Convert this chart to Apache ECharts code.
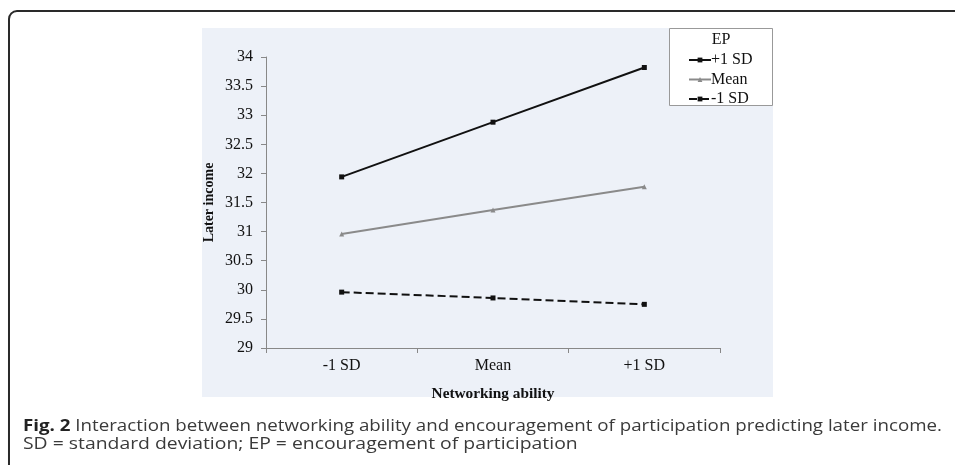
<!DOCTYPE html>
<html><head><meta charset="utf-8">
<script src="https://cdn.jsdelivr.net/npm/echarts@6/dist/echarts.min.js"></script>
<style>html,body{margin:0;padding:0;background:#fff}#c{width:955px;height:465px}</style>
</head><body><div id="c"></div>
<script>
const categories = ['-1 SD', 'Mean', '+1 SD'];
const seriesNames = ['+1 SD', 'Mean', '-1 SD'];
const highEP = [31.94, 32.88, 33.82];
const meanEP = [30.96, 31.37, 31.77];
const lowEP = [29.96, 29.86, 29.75];
const yTicks = [29, 29.5, 30, 30.5, 31, 31.5, 32, 32.5, 33, 33.5, 34];

const serif = '"Liberation Serif", "Times New Roman", serif';
const sans = '"Open Sans", sans-serif';
const chart = echarts.init(document.getElementById('c'), null, {renderer: 'canvas'});
chart.setOption({
  animation: false,
  backgroundColor: '#fff',
  grid: {left: 266, right: 235, top: 57, bottom: 117},
  graphic: [
    {type: 'rect', z: -10, shape: {x: 202, y: 28, width: 571, height: 369}, style: {fill: '#edf1f8'}},
    {type: 'rect', z: -5, shape: {x: 669.5, y: 28.5, width: 103, height: 77}, style: {fill: '#fff', stroke: '#999', lineWidth: 1}},
    {type: 'text', z: 5, style: {x: 721, y: 40, text: 'EP', fontSize: 16, fontFamily: serif, fill: '#111', align: 'center', verticalAlign: 'middle'}},
    {type: 'rect', z: 5, shape: {x: 9, y: 11, width: 1000, height: 500, r: 8}, style: {fill: null, stroke: '#2a2a2a', lineWidth: 2}},
    {type: 'text', z: 5, x: 23, y: 426, scaleX: 1.17, style: {x: 0, y: 0, text: '{b|Fig. 2} Interaction between networking ability and encouragement of participation predicting later income.',
      fontSize: 16, fontFamily: sans, fill: '#3a3a3a', verticalAlign: 'middle',
      rich: {b: {fontWeight: 'bold', fontSize: 16, fontFamily: sans, fill: '#222'}}}},
    {type: 'text', z: 5, x: 23, y: 444, scaleX: 1.21, style: {x: 0, y: 0, text: 'SD = standard deviation; EP = encouragement of participation',
      fontSize: 16, fontFamily: sans, fill: '#3a3a3a', verticalAlign: 'middle'}}
  ],
  legend: {
    orient: 'vertical', left: 688, top: 52, padding: 0, itemWidth: 22, itemHeight: 6, itemGap: 3.5,
    textStyle: {fontFamily: serif, fontSize: 16, color: '#111', padding: [0, 0, 0, -5]},
    data: seriesNames
  },
  xAxis: {
    type: 'category', data: categories, boundaryGap: true,
    name: 'Networking ability', nameLocation: 'middle', nameGap: 39,
    nameTextStyle: {fontFamily: serif, fontSize: 15.3, fontWeight: 'bold', color: '#111'},
    axisLine: {lineStyle: {color: '#888', width: 1}},
    axisTick: {show: true, length: 5, alignWithLabel: false, lineStyle: {color: '#888'}},
    axisLabel: {fontFamily: serif, fontSize: 16, color: '#111', margin: 10}
  },
  yAxis: {
    type: 'value', min: 29, max: 34, interval: 0.5,
    name: 'Later income', nameLocation: 'middle', nameGap: 50,
    nameTextStyle: {fontFamily: serif, fontSize: 14, fontWeight: 'bold', color: '#111'},
    axisLine: {show: true, lineStyle: {color: '#888', width: 1}},
    axisTick: {show: true, length: 5, lineStyle: {color: '#888'}},
    splitLine: {show: false},
    axisLabel: {fontFamily: serif, fontSize: 16, color: '#111', margin: 13,
      formatter: v => yTicks.includes(v) ? String(v) : ''}
  },
  series: [
    {name: seriesNames[0], type: 'line', data: highEP, symbol: 'rect', symbolSize: 5,
      lineStyle: {color: '#111', width: 2}, itemStyle: {color: '#111'}},
    {name: seriesNames[1], type: 'line', data: meanEP, symbol: 'triangle', symbolSize: 5,
      lineStyle: {color: '#8a8a8a', width: 2}, itemStyle: {color: '#8a8a8a'}},
    {name: seriesNames[2], type: 'line', data: lowEP, symbol: 'rect', symbolSize: 5,
      lineStyle: {color: '#111', width: 2, type: [8, 4]}, itemStyle: {color: '#111'}}
  ]
});
</script></body></html>
